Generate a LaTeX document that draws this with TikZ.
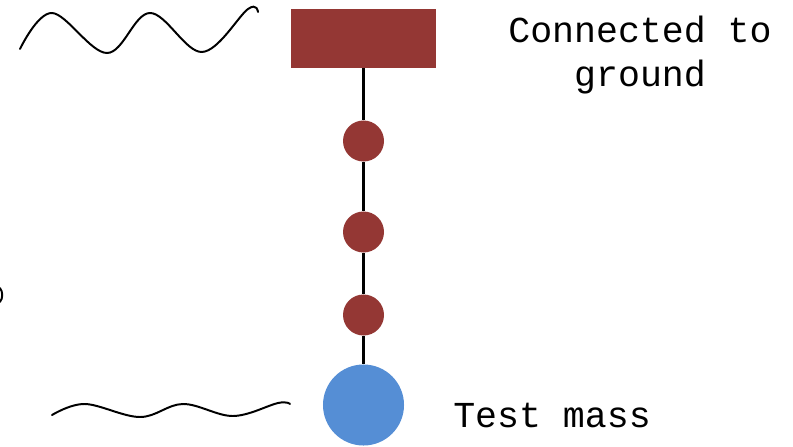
\documentclass[tikz,border=0pt]{standalone}
\usepackage{fontspec}
\setmonofont{Liberation Mono}
\usepackage{tikz}
\usetikzlibrary{positioning}
\definecolor{massred}{RGB}{148,55,52}
\definecolor{massblue}{RGB}{85,142,213}

\begin{document}
\begin{tikzpicture}[
    x=0.025cm, y=-0.025cm,
    block/.style={
        rectangle, fill=massred, inner sep=0pt, outer sep=0pt,
        minimum width=3.625cm, minimum height=1.475cm
    },
    bead/.style={
        circle, fill=#1, inner sep=0pt, outer sep=0pt, minimum size=1.025cm
    },
    bead/.default={massred},
    wire/.style={line width=2.3pt, draw=black},
    wave/.style={line width=1.4pt, draw=black, line cap=round},
    lbl/.style={font=\ttfamily\fontsize{26}{32}\selectfont, inner sep=0pt}
]
\useasboundingbox (0,0) rectangle (793,446);

% Ground block
\node[block] (ground) at (363.5,38.5) {};

% Intermediate masses
\node[bead] (m1) at (363.5,141) {};
\node[bead] (m2) at (363.5,232) {};
\node[bead] (m3) at (363.5,315) {};

% Test mass
\node[bead=massblue, minimum size=2.025cm] (test) at (363.5,405) {};

% Suspension wire
\draw[wire] (ground.south) -- (m1.north);
\draw[wire] (m1.south) -- (m2.north);
\draw[wire] (m2.south) -- (m3.north);
\draw[wire] (m3.south) -- (test.north);

% Labels
\node[lbl, align=center, anchor=base] (gndlbl) at (640,87)
    {Connected to\\ground};
\node[lbl, anchor=base west] (testlbl) at (453,427) {Test mass};

% Ground motion
\draw[wave] plot[smooth, tension=0.6] coordinates
    {(20,49) (52,13) (107,53) (150,13) (202,52) (248,9) (258,12)};

% Residual motion
\draw[wave] plot[smooth, tension=0.6] coordinates
    {(52,415) (85,404) (140,417) (183,404) (233,416) (278,403) (290,404)};

% edge mark
\draw[wave] (0,288) .. controls (3,292) and (3,298) .. (0,302);

\end{tikzpicture}
\end{document}
